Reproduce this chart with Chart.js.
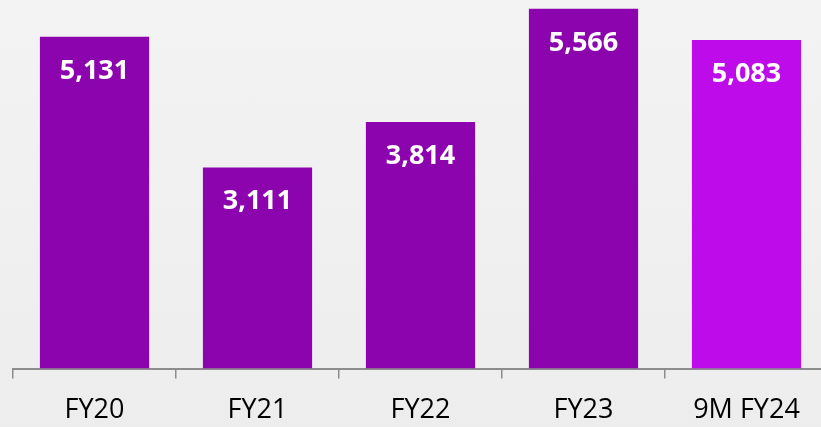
<!DOCTYPE html>
<html>
<head>
<meta charset="utf-8">
<script src="https://cdn.jsdelivr.net/npm/chart.js@4/dist/chart.umd.min.js"></script>
<style>
  html, body { margin: 0; padding: 0; width: 821px; height: 427px; overflow: hidden;
    background: linear-gradient(#f3f3f3, #ededed); }
  #wrap { position: absolute; left: 0; top: 0; width: 828px; height: 443px; }
</style>
</head>
<body>
<div id="wrap"><canvas id="c"></canvas></div>
<script>
const categories = ["FY20", "FY21", "FY22", "FY23", "9M FY24"];
const values = [5131, 3111, 3814, 5566, 5083];
const barColors = ["#8b04ae", "#8b04ae", "#8b04ae", "#8b04ae", "#bd0be9"];

const valueLabels = {
  id: 'valueLabels',
  afterDatasetsDraw(chart) {
    const ctx = chart.ctx;
    const meta = chart.getDatasetMeta(0);
    ctx.save();
    ctx.fillStyle = '#ffffff';
    ctx.font = 'bold 27px "Open Sans"';
    ctx.textAlign = 'center';
    ctx.textBaseline = 'alphabetic';
    meta.data.forEach((bar, i) => {
      ctx.fillText(values[i].toLocaleString('en-US'), bar.x, bar.y + 42);
    });
    ctx.restore();
  }
};

new Chart(document.getElementById('c'), {
  type: 'bar',
  data: {
    labels: categories,
    datasets: [{
      data: values,
      backgroundColor: barColors,
      borderWidth: 0,
      categoryPercentage: 1,
      barPercentage: 0.67
    }]
  },
  options: {
    responsive: true,
    maintainAspectRatio: false,
    animation: false,
    layout: { padding: { left: 13, right: 0, top: 0, bottom: 0 } },
    plugins: { legend: { display: false }, tooltip: { enabled: false } },
    scales: {
      y: { display: false, min: 0, max: 5700 },
      x: {
        grid: { offset: true, drawOnChartArea: false, drawTicks: true, tickLength: 10,
                color: '#8c8c8c', lineWidth: 1.5 },
        border: { display: true, color: '#8c8c8c', width: 2 },
        ticks: { color: '#000000', padding: 16, font: { family: '"Open Sans"', size: 27 } }
      }
    }
  },
  plugins: [valueLabels]
});
</script>
</body>
</html>
